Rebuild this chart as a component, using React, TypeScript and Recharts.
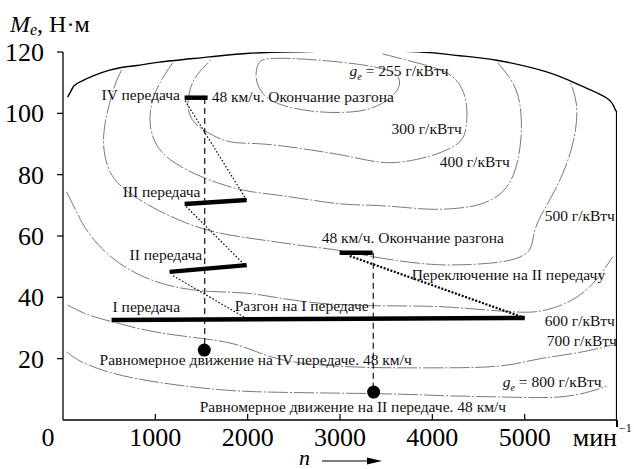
import { ComposedChart, Line, Scatter, XAxis, YAxis } from 'recharts';

type Pt = { x: number; y: number };

const serif = '"Liberation Serif", "Times New Roman", serif';

const xTicks = [0, 1000, 2000, 3000, 4000, 5000, 6000];
const yTicks = [20, 40, 60, 80, 100, 120];

const pts = (rows: number[][]): Pt[] => rows.map(([x, y]) => ({ x, y }));

// external speed characteristic (max torque) and the governor branch
const maxTorque = pts([
  [50, 105.3], [104, 108.3], [180, 110.2], [505, 114.1], [800, 115.6], [1046, 116.7],
  [1588, 118.4], [2021, 119.6], [2562, 120.1], [3100, 120.4], [3600, 120.3], [3971, 119.8],
  [4300, 118.8], [4697, 117.3], [5238, 113.5], [5596, 109.2], [5888, 105.0], [5975, 101.6],
  [6000, 100.4],
]);
const governor = pts([[6000, 100.4], [6000, 0]]);

// specific fuel consumption contours, g/kWh
const ge255 = pts([
  [2108, 116.7], [2075, 111.5], [2151, 106.0], [2324, 102.7], [2693, 100.4], [3050, 100.1],
  [3342, 101.1], [3559, 105.0], [3667, 109.2], [3624, 113.2], [3407, 115.1], [3050, 116.7],
  [2508, 118.0], [2183, 118.0],
]);
const ge300 = pts([
  [3461, 119.4], [3841, 116.4], [4046, 114.8], [4220, 112.5], [4328, 108.3], [4382, 102.7],
  [4371, 95.2], [4328, 90.7], [4155, 88.0], [4003, 86.1], [3667, 83.8], [3407, 83.8],
  [3050, 86.4], [2693, 88.0], [2324, 89.7], [2021, 90.3], [1837, 90.3], [1663, 92.0],
  [1480, 95.2], [1371, 98.5], [1339, 103.7], [1404, 111.5], [1555, 115.8], [1600, 117.6],
]);
const ge400 = pts([
  [1187, 116.4], [1046, 110.2], [938, 102.7], [938, 93.9], [1046, 87.4], [1230, 83.2],
  [1512, 78.9], [1837, 75.7], [2021, 74.4], [2324, 73.4], [2693, 71.7], [3050, 70.1],
  [3407, 70.1], [3776, 69.1], [4025, 68.5], [4328, 69.1], [4512, 70.1], [4697, 72.4],
  [4837, 76.6], [4923, 83.2], [4967, 92.0], [4967, 100.4], [4913, 109.2], [4697, 116.9],
]);
const ge500 = pts([
  [635, 114.1], [581, 110.9], [537, 107.0], [451, 97.2], [429, 89.7], [472, 83.2],
  [537, 78.9], [689, 74.4], [971, 69.1], [1339, 63.9], [1696, 60.7], [2021, 59.3],
  [2324, 58.0], [2693, 56.4], [3018, 55.4], [3407, 52.8], [3971, 50.5], [4328, 50.5],
  [4697, 51.2], [4923, 52.5], [5054, 54.8], [5087, 58.0], [5108, 62.6], [5195, 67.8],
  [5347, 75.7], [5487, 85.4], [5563, 95.2], [5574, 103.7], [5487, 110.6],
]);
const ge600 = pts([
  [39, 74.4], [147, 67.8], [256, 61.3], [505, 52.8], [862, 46.3], [1230, 43.0],
  [1588, 41.7], [1989, 41.7], [2324, 39.8], [2693, 38.2], [3050, 37.5], [3342, 37.2],
  [4025, 37.2], [4328, 36.5], [4869, 35.2], [5163, 34.9], [5487, 38.2], [5704, 43.0],
  [5845, 48.3], [5953, 53.2],
]);
const ge700 = pts([
  [50, 37.5], [256, 34.2], [505, 32.3], [938, 28.7], [1480, 26.7], [1805, 25.4],
  [2021, 23.2], [2238, 20.5], [2562, 18.3], [3245, 17.0], [3862, 17.0], [4512, 17.0],
  [4869, 17.9], [5163, 20.2], [5596, 21.8], [5953, 24.5],
]);
const ge800 = pts([
  [39, 22.2], [180, 18.9], [505, 15.3], [862, 13.0], [1230, 11.4], [1588, 10.1],
  [2021, 9.1], [2920, 8.8], [3646, 8.5], [4187, 7.8], [4804, 7.5], [5130, 7.2],
  [5455, 7.5], [5704, 9.1], [5888, 11.1],
]);

// gear operating segments
const gearIV = pts([[1317, 105.1], [1566, 105.1]]);
const gearIII = pts([[1317, 70.4], [1989, 71.7]]);
const gearII = pts([[1154, 48.3], [1989, 50.5]]);
const gearI = pts([[526, 32.6], [5000, 33.3]]);
const endII = pts([[2996, 54.5], [3353, 54.5]]);

// gear shifts
const shiftIIItoIV = pts([[1989, 71.7], [1317, 104.4]]);
const shiftIItoIII = pts([[1989, 49.9], [1317, 70.1]]);
const shiftItoII = pts([[1960, 33.6], [1176, 47.3]]);
const shiftToII = pts([[5000, 33.3], [3104, 53.5]]);

// steady motion at 48 km/h
const dropIV = pts([[1535, 105.0], [1535, 22.8]]);
const dropII = pts([[3360, 54.5], [3360, 9.1]]);
const steadyPoints = pts([[1530, 22.8], [3364, 9.1]]);

const notes = [
  { x: 418, y: 104.4, text: 'IV передача' },
  { x: 1610, y: 103.7, text: '48 км/ч. Окончание разгона' },
  { x: 646, y: 72.7, text: 'III передача' },
  { x: 721, y: 52.2, text: 'II передача' },
  { x: 537, y: 35.2, text: 'I передача' },
  { x: 1859, y: 35.5, text: 'Разгон на I передаче' },
  { x: 2801, y: 57.7, text: '48 км/ч. Окончание разгона' },
  { x: 3776, y: 45.7, text: 'Переключение на II передачу' },
  { x: 396, y: 17.9, text: 'Равномерное движение на IV передаче. 48 км/ч' },
  { x: 1480, y: 2.6, text: 'Равномерное движение на II передаче. 48 км/ч' },
  { x: 3104, y: 112.2, text: '= 255 г/кВтч', ge: true },
  { x: 3559, y: 93.3, text: '300 г/кВтч' },
  { x: 4079, y: 82.5, text: '400 г/кВтч' },
  { x: 5217, y: 64.9, text: '500 г/кВтч' },
  { x: 5217, y: 30.7, text: '600 г/кВтч' },
  { x: 5238, y: 24.1, text: '700 г/кВтч' },
  { x: 4762, y: 10.8, text: '= 800 г/кВтч', ge: true },
];

const contours = [ge300, ge400, ge500, ge600, ge700, ge800];
const bars = [gearIV, gearIII, gearII, gearI, endII];
const shifts = [shiftIIItoIV, shiftItoII, shiftIItoIII];

function Note(props: any) {
  const { cx, cy, payload } = props;
  const common = { x: cx, y: cy, fontFamily: serif, fontSize: 15.5, fill: '#111' };
  if (payload.ge) {
    return (
      <text {...common}>
        <tspan fontStyle="italic">g</tspan>
        <tspan fontStyle="italic" fontSize={10} dy={4}>e</tspan>
        <tspan dy={-4}>{' ' + payload.text}</tspan>
      </text>
    );
  }
  return <text {...common}>{payload.text}</text>;
}

function XTick(props: any) {
  const { x, y, payload } = props;
  const v = payload.value;
  const font = { fontFamily: serif, fontSize: 26, fill: '#000' };
  if (v === 0) {
    return <text x={x - 15} y={y + 26} textAnchor="middle" {...font}>0</text>;
  }
  if (v === 6000) {
    return (
      <g>
        <line x1={x} y1={y} x2={x} y2={y + 7} stroke="#000" strokeWidth={2} />
        <text x={x} y={y + 26} textAnchor="end" {...font}>мин</text>
        <text x={x + 2} y={y + 12} fontFamily={serif} fontSize={12} fill="#000">−1</text>
      </g>
    );
  }
  return (
    <g>
      <line x1={x} y1={y} x2={x} y2={y - 6} stroke="#000" strokeWidth={1.2} />
      <text x={x} y={y + 26} textAnchor="middle" {...font}>{v}</text>
    </g>
  );
}

function YTick(props: any) {
  const { y, payload } = props;
  return (
    <text x={44} y={y} dy="0.35em" textAnchor="end" fontFamily={serif} fontSize={26} fill="#000">
      {payload.value}
    </text>
  );
}

const YTitle = () => (
  <text x={10} y={32} fontFamily={serif} fontSize={24} fill="#000">
    <tspan fontStyle="italic">M</tspan>
    <tspan fontStyle="italic" fontSize={16} dy={3}>e</tspan>
    <tspan dy={-3}>, Н·м</tspan>
  </text>
);

const XTitle = () => (
  <g>
    <text x={299} y={465} fontFamily={serif} fontSize={22} fontStyle="italic" fill="#000">n</text>
    <line x1={322} y1={461} x2={370} y2={461} stroke="#000" strokeWidth={1.2} />
    <polygon points="382,461 367,457.5 367,464.5" fill="#000" />
  </g>
);

export default function App() {
  return (
    <div style={{ width: 634, height: 469, background: '#fff' }}>
      <style>{'body{margin:0;overflow:hidden}'}</style>
      <ComposedChart width={634} height={469} margin={{ top: 52, right: 17, bottom: 0, left: 0 }}>
        <XAxis
          type="number"
          dataKey="x"
          domain={[0, 6000]}
          ticks={xTicks}
          allowDataOverflow
          height={49}
          tickSize={0}
          tickMargin={0}
          tickLine={false}
          axisLine={{ stroke: '#000', strokeWidth: 1.3 }}
          tick={(p: any) => <XTick {...p} />}
          label={{ content: () => <XTitle /> }}
        />
        <YAxis
          type="number"
          dataKey="y"
          domain={[0, 120]}
          ticks={yTicks}
          allowDataOverflow
          width={63}
          tickSize={6}
          axisLine={{ stroke: '#000', strokeWidth: 1.3 }}
          tickLine={{ stroke: '#000', strokeWidth: 1.2 }}
          tick={(p: any) => <YTick {...p} />}
          label={{ content: () => <YTitle /> }}
        />
        <Line data={ge255} dataKey="y" type="basisClosed" stroke="#555" strokeWidth={0.8}
          strokeDasharray="20 2 2 2" dot={false} activeDot={false} isAnimationActive={false} />
        {contours.map((c, i) => (
          <Line key={`ge-${i}`} data={c} dataKey="y" type="basis" stroke="#555" strokeWidth={0.8}
            strokeDasharray="20 2 2 2" dot={false} activeDot={false} isAnimationActive={false} />
        ))}
        <Line data={maxTorque} dataKey="y" type="natural" stroke="#000" strokeWidth={1.4}
          dot={false} activeDot={false} isAnimationActive={false} />
        <Line data={governor} dataKey="y" type="linear" stroke="#000" strokeWidth={2.2}
          dot={false} activeDot={false} isAnimationActive={false} />
        <Line data={dropIV} dataKey="y" type="linear" stroke="#000" strokeWidth={1.1}
          strokeDasharray="6 4" dot={false} activeDot={false} isAnimationActive={false} />
        <Line data={dropII} dataKey="y" type="linear" stroke="#000" strokeWidth={1.1}
          strokeDasharray="6 4" dot={false} activeDot={false} isAnimationActive={false} />
        {shifts.map((s, i) => (
          <Line key={`sh-${i}`} data={s} dataKey="y" type="linear" stroke="#000" strokeWidth={1.2}
            strokeDasharray="1.5 2" dot={false} activeDot={false} isAnimationActive={false} />
        ))}
        <Line data={shiftToII} dataKey="y" type="linear" stroke="#000" strokeWidth={2.2}
          strokeDasharray="2 1.6" dot={false} activeDot={false} isAnimationActive={false} />
        {bars.map((b, i) => (
          <Line key={`bar-${i}`} data={b} dataKey="y" type="linear" stroke="#000" strokeWidth={4.5}
            dot={false} activeDot={false} isAnimationActive={false} />
        ))}
        <Scatter data={steadyPoints} dataKey="y" isAnimationActive={false}
          shape={(p: any) => <circle cx={p.cx} cy={p.cy} r={6.5} fill="#000" />} />
        <Scatter data={notes} dataKey="y" isAnimationActive={false}
          shape={(p: any) => <Note {...p} />} />
      </ComposedChart>
    </div>
  );
}
